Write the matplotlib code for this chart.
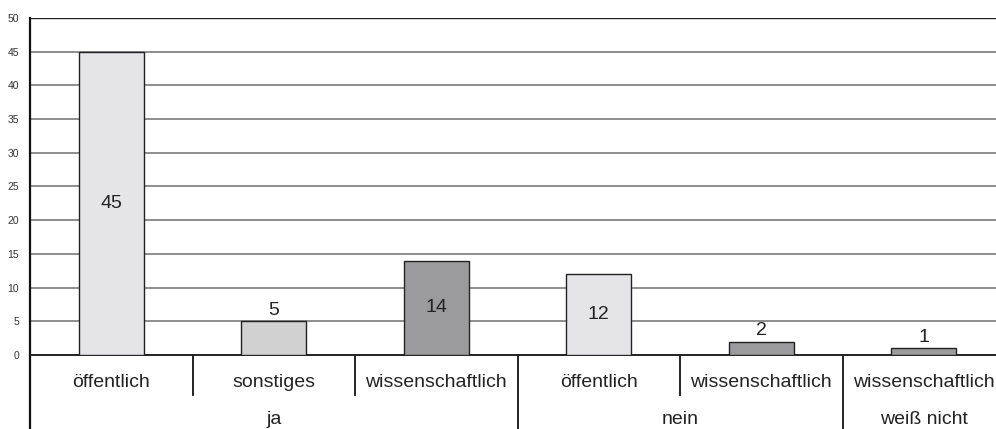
import numpy as np
import matplotlib
matplotlib.use("Agg")
import matplotlib.pyplot as plt

plt.rcParams['font.family'] = ['Liberation Sans', 'DejaVu Sans']

# Data
groups = ['ja', 'ja', 'ja', 'nein', 'nein', 'weiß nicht']
subcats = ['öffentlich', 'sonstiges', 'wissenschaftlich',
           'öffentlich', 'wissenschaftlich', 'wissenschaftlich']
values = [45, 5, 14, 12, 2, 1]

colors = {'öffentlich': '#e5e5e7', 'sonstiges': '#d1d1d2', 'wissenschaftlich': '#9b9b9d'}

fig = plt.figure(figsize=(9.96, 4.29), dpi=100)
# axes run slightly past the right edge of the picture, like the reference
ax = fig.add_axes([30/996, 74/429, 975/996, 337/429])

x = np.arange(len(values))
ax.set_xlim(-0.5, len(values) - 0.5)
ax.set_ylim(0, 50)
ax.set_yticks(np.arange(0, 51, 5))
ax.tick_params(axis='y', length=0, labelsize=7.5, pad=8, labelcolor='#333333')
ax.set_xticks([])

for y in np.arange(5, 50, 5):
    ax.axhline(y, color='#858585', lw=1.3, zorder=1)
ax.axhline(50, color='#222222', lw=1.0, zorder=1)

bars = ax.bar(x, values, width=0.4, color=[colors[s] for s in subcats],
              edgecolor='#222222', linewidth=1.0, zorder=3)

for xi, v in zip(x, values):
    if v >= 10:
        ax.text(xi, v / 2, str(v), ha='center', va='center', fontsize=14, color='#222222', zorder=4)
    else:
        ax.text(xi, v + 0.4, str(v), ha='center', va='bottom', fontsize=14, color='#222222', zorder=4)

for s in ['top', 'right']:
    ax.spines[s].set_visible(False)
ax.spines['left'].set_linewidth(1.6)
ax.spines['left'].set_color('#111111')
ax.spines['bottom'].set_linewidth(1.4)
ax.spines['bottom'].set_color('#222222')

trans = ax.get_xaxis_transform()
# left axis line continues down through the category area
ax.plot([-0.5, -0.5], [0, -0.22], transform=trans, color='#111111', lw=1.6, clip_on=False)

# sub-category labels and separators
for xi, s in zip(x, subcats):
    ax.text(xi, -0.083, s, transform=trans, ha='center', va='center', fontsize=14, color='#222222')

for i in range(1, len(values)):
    if groups[i] != groups[i - 1]:
        ax.plot([i - 0.5, i - 0.5], [0, -0.22], transform=trans, color='#111111', lw=1.3, clip_on=False)
    else:
        ax.plot([i - 0.5, i - 0.5], [0, -0.12], transform=trans, color='#111111', lw=1.3, clip_on=False)

# group labels
uniq = []
for g in groups:
    if g not in uniq:
        uniq.append(g)
for g in uniq:
    idx = [i for i, gg in enumerate(groups) if gg == g]
    ax.text(np.mean(idx), -0.19, g, transform=trans, ha='center', va='center', fontsize=14, color='#222222')

fig.savefig('out.png', dpi=100)
